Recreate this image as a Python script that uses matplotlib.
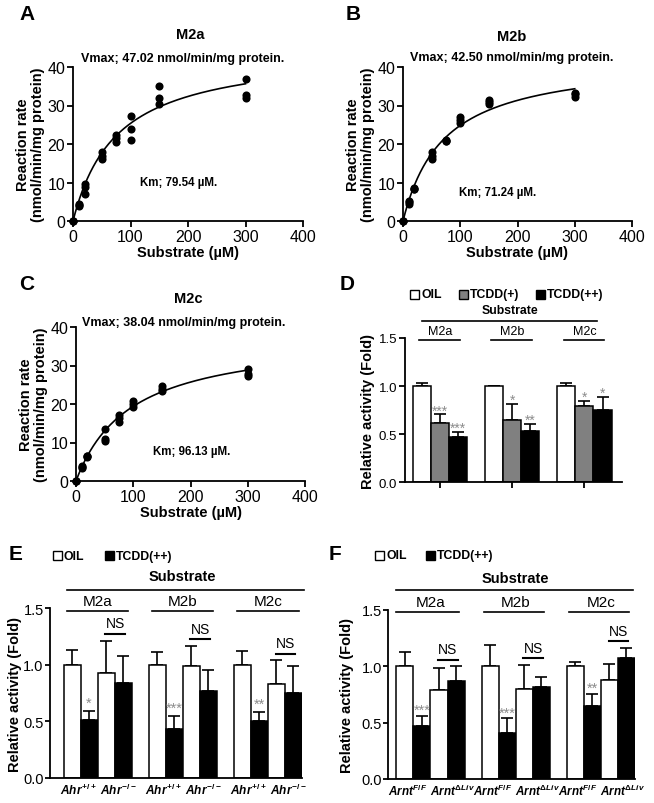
import numpy as np
import matplotlib
matplotlib.use('Agg')
import matplotlib.pyplot as plt
from matplotlib.patches import Rectangle
from matplotlib.lines import Line2D
from matplotlib.transforms import blended_transform_factory

plt.rcParams['font.family'] = ['Liberation Sans', 'DejaVu Sans']
plt.rcParams['mathtext.fontset'] = 'custom'
plt.rcParams['mathtext.it'] = 'Liberation Sans:italic:bold'
plt.rcParams['mathtext.rm'] = 'Liberation Sans:bold'
plt.rcParams['mathtext.bf'] = 'Liberation Sans:bold'

# ---------------- data ----------------
substrate = [0, 10, 20, 50, 75, 100, 150, 300]
rate_m2a = [[0, 0, 0], [4.0, 4.2, 4.5], [7.0, 8.8, 9.5], [16.0, 17.0, 18.0],
            [20.5, 21.5, 22.3], [21.0, 24.0, 27.3], [30.3, 32.0, 35.0], [32.0, 32.8, 37.0]]
rate_m2b = [[0, 0, 0], [4.5, 5.0, 5.3], [8.3, 8.4, 8.5], [16.0, 17.0, 17.8],
            [20.7, 20.8, 21.0], [25.5, 26.3, 27.0], [30.5, 31.0, 31.5], [32.3, 33.0, 33.3]]
rate_m2c = [[0, 0, 0], [3.3, 3.7, 4.0], [6.2, 6.5, 6.6], [10.3, 11.0, 13.5],
            [15.3, 16.3, 17.2], [19.3, 20.0, 20.8], [23.3, 24.0, 24.7], [27.3, 27.8, 29.0]]
vmax_text = [47.02, 42.50, 38.04]
km_text = [79.54, 71.24, 96.13]
# fitted Michaelis-Menten curve parameters (as drawn)
fit_vmax = [44.7, 42.50, 38.04]
fit_km = [76.3, 71.24, 96.13]
enzymes = ['M2a', 'M2b', 'M2c']

# Panel D
d_oil = [1.0, 1.0, 1.0]
d_oil_err = [0.035, 0.005, 0.03]
d_tcdd1 = [0.615, 0.645, 0.795]
d_tcdd1_err = [0.09, 0.17, 0.05]
d_tcdd2 = [0.475, 0.53, 0.755]
d_tcdd2_err = [0.05, 0.08, 0.13]
d_stars1 = ['***', '*', '*']
d_stars2 = ['***', '**', '*']

# Panel E
e_oil_wt = [1.0, 1.0, 1.0]
e_oil_wt_err = [0.13, 0.11, 0.12]
e_tcdd_wt = [0.51, 0.435, 0.507]
e_tcdd_wt_err = [0.085, 0.115, 0.075]
e_oil_ko = [0.925, 0.99, 0.83]
e_oil_ko_err = [0.29, 0.175, 0.21]
e_tcdd_ko = [0.84, 0.767, 0.752]
e_tcdd_ko_err = [0.235, 0.19, 0.24]
e_stars = ['*', '***', '**']
e_geno = [r'$Ahr^{+/+}$', r'$Ahr^{-/-}$']

# Panel F
f_oil_wt = [1.0, 1.0, 1.0]
f_oil_wt_err = [0.128, 0.187, 0.04]
f_tcdd_wt = [0.472, 0.404, 0.644]
f_tcdd_wt_err = [0.09, 0.136, 0.11]
f_oil_ko = [0.79, 0.797, 0.877]
f_oil_ko_err = [0.19, 0.213, 0.142]
f_tcdd_ko = [0.871, 0.818, 1.069]
f_tcdd_ko_err = [0.127, 0.088, 0.093]
f_stars = ['***', '***', '**']
f_geno = [r'$Arnt^{F/F}$', r'$Arnt^{\Delta Liv}$']

# ---------------- figure ----------------
W, H = 654, 804
fig = plt.figure(figsize=(W / 100, H / 100), dpi=100)

LW = 1.3
STAR_C = '#8c8c8c'


def add_ax(x0, x1, y0, y1):
    return fig.add_axes([x0 / W, 1 - y1 / H, (x1 - x0) / W, (y1 - y0) / H])


def ftext(x, y, s, **kw):
    kw.setdefault('ha', 'center')
    kw.setdefault('va', 'center')
    fig.text(x / W, 1 - y / H, s, **kw)


def style(ax, tick_fs, length=4, pad=1.5):
    for s in ['top', 'right']:
        ax.spines[s].set_visible(False)
    for s in ['left', 'bottom']:
        ax.spines[s].set_linewidth(LW)
    ax.tick_params(direction='out', length=length, width=LW, labelsize=tick_fs, pad=pad)


def kinetics(ax, rates, vm, km):
    xs, ys = [], []
    for s, reps in zip(substrate, rates):
        for r in reps:
            xs.append(s)
            ys.append(r)
    ax.scatter(xs, ys, s=34, color='black', zorder=3, clip_on=False, linewidths=0)
    sx = np.linspace(0, max(substrate), 300)
    ax.plot(sx, vm * sx / (km + sx), color='black', lw=1.2, clip_on=False)
    ax.set_xlim(0, 400)
    ax.set_ylim(0, 40)
    ax.set_xticks([0, 100, 200, 300, 400])
    ax.set_yticks([0, 10, 20, 30, 40])
    style(ax, 11.5)
    ax.set_xlabel('Substrate (µM)', fontsize=10.5, fontweight='bold', labelpad=1)
    ax.set_ylabel('Reaction rate\n(nmol/min/mg protein)', fontsize=10.5,
                  fontweight='bold', labelpad=2, linespacing=1.05)


# Panel A
axA = add_ax(73, 303, 68, 222)
kinetics(axA, rate_m2a, fit_vmax[0], fit_km[0])
ftext(27, 14, 'A', fontsize=15, fontweight='bold')
ftext(190, 35, enzymes[0], fontsize=10.5, fontweight='bold')
ftext(183, 59, f'Vmax; {vmax_text[0]:.2f} nmol/min/mg protein.', fontsize=9, fontweight='bold')
ftext(179, 183, f'Km; {km_text[0]:.2f} µM.', fontsize=8.3, fontweight='bold')

# Panel B
axB = add_ax(403, 632, 68, 222)
kinetics(axB, rate_m2b, fit_vmax[1], fit_km[1])
ftext(353, 14, 'B', fontsize=15, fontweight='bold')
ftext(512, 37, enzymes[1], fontsize=10.5, fontweight='bold')
ftext(512, 58, f'Vmax; {vmax_text[1]:.2f} nmol/min/mg protein.', fontsize=9, fontweight='bold')
ftext(498, 193, f'Km; {km_text[1]:.2f} µM.', fontsize=8.3, fontweight='bold')

# Panel C
axC = add_ax(76, 305, 328, 482)
kinetics(axC, rate_m2c, fit_vmax[2], fit_km[2])
ftext(27, 285, 'C', fontsize=15, fontweight='bold')
ftext(188, 299, enzymes[2], fontsize=10.5, fontweight='bold')
ftext(184, 323, f'Vmax; {vmax_text[2]:.2f} nmol/min/mg protein.', fontsize=9, fontweight='bold')
ftext(192, 452, f'Km; {km_text[2]:.2f} µM.', fontsize=8.3, fontweight='bold')


def legend_item(x, y, color, label, fs):
    sz = 9
    fig.add_artist(Rectangle((x / W, 1 - (y + sz / 2) / H), sz / W, sz / H,
                             transform=fig.transFigure, facecolor=color,
                             edgecolor='black', lw=1.0))
    ftext(x + sz + 2, y, label, ha='left', fontsize=fs, fontweight='bold')


def bracket(ax, x0, x1, ypx, lw=1.2):
    tr = blended_transform_factory(ax.transData, fig.transFigure)
    fig.add_artist(Line2D([x0, x1], [1 - ypx / H] * 2, transform=tr, color='black', lw=lw))


def btext(ax, x, ypx, s, **kw):
    tr = blended_transform_factory(ax.transData, fig.transFigure)
    kw.setdefault('ha', 'center')
    kw.setdefault('va', 'center')
    ax.text(x, 1 - ypx / H, s, transform=tr, **kw)


def bars(ax, xpos, vals, errs, color, w):
    ax.bar(xpos, vals, width=w, color=color, edgecolor='black', linewidth=1.1, zorder=2)
    ax.errorbar(xpos, vals, yerr=[np.zeros(len(vals)), errs], fmt='none', ecolor='black',
                elinewidth=1.2, capsize=4.5, capthick=1.2, zorder=1)


# Panel D
axD = add_ax(405, 622, 339, 483.3)
gx = np.arange(3)
wd = 0.25
bars(axD, gx - wd, d_oil, d_oil_err, 'white', wd)
bars(axD, gx, d_tcdd1, d_tcdd1_err, '#808080', wd)
bars(axD, gx + wd, d_tcdd2, d_tcdd2_err, 'black', wd)
for i in range(3):
    axD.text(gx[i], d_tcdd1[i] + d_tcdd1_err[i] + 0.0, d_stars1[i], ha='center',
             va='baseline', fontsize=10, color=STAR_C)
    axD.text(gx[i] + wd, d_tcdd2[i] + d_tcdd2_err[i] + 0.0, d_stars2[i], ha='center',
             va='baseline', fontsize=10, color=STAR_C)
axD.set_xlim(-0.485, 2.52)
axD.set_ylim(0, 1.5)
axD.set_yticks([0, 0.5, 1.0, 1.5])
axD.set_yticklabels(['0.0', '0.5', '1.0', '1.5'])
axD.set_xticks(gx)
axD.set_xticklabels([])
style(axD, 9.5)
axD.set_ylabel('Relative activity (Fold)', fontsize=10.5, fontweight='bold', labelpad=3)
ftext(347, 285, 'D', fontsize=15, fontweight='bold')
legend_item(410, 295, 'white', 'OIL', 8.8)
legend_item(459, 295, '#808080', 'TCDD(+)', 8.8)
legend_item(536, 295, 'black', 'TCDD(++)', 8.8)
btext(axD, 0.97, 311, 'Substrate', fontsize=8.8, fontweight='bold')
bracket(axD, -0.25, 2.17, 322)
for i in range(3):
    btext(axD, gx[i], 332, enzymes[i], fontsize=9)
    bracket(axD, gx[i] - 0.29, gx[i] + 0.27, 341)


def genotype_panel(ax, oil_wt, oil_wt_e, tc_wt, tc_wt_e, oil_ko, oil_ko_e, tc_ko, tc_ko_e,
                   stars, geno, star_off, lab_off, lab_fs, ylab_x):
    w = 0.2
    bars(ax, gx - 1.5 * w, oil_wt, oil_wt_e, 'white', w)
    bars(ax, gx - 0.5 * w, tc_wt, tc_wt_e, 'black', w)
    bars(ax, gx + 0.5 * w, oil_ko, oil_ko_e, 'white', w)
    bars(ax, gx + 1.5 * w, tc_ko, tc_ko_e, 'black', w)
    for i in range(3):
        ax.text(gx[i] - 0.5 * w, tc_wt[i] + tc_wt_e[i] + star_off, stars[i], ha='center',
                va='baseline', fontsize=10.5, color=STAR_C)
        top = max(oil_ko[i] + oil_ko_e[i], tc_ko[i] + tc_ko_e[i]) + 0.06
        ax.plot([gx[i] + 0.09, gx[i] + 0.32], [top, top], color='black', lw=1.5, clip_on=False)
        ax.text(gx[i] + 0.205, top + 0.03, 'NS', ha='center', va='bottom', fontsize=10)
        ax.text(gx[i] + lab_off[0], -0.1, geno[0], ha='center', va='center', fontsize=lab_fs)
        ax.text(gx[i] + lab_off[1], -0.1, geno[1], ha='center', va='center', fontsize=lab_fs)
    ax.set_ylim(0, 1.5)
    ax.set_yticks([0, 0.5, 1.0, 1.5])
    ax.set_yticklabels(['0.0', '0.5', '1.0', '1.5'])
    ax.set_xticks([])
    style(ax, 10.5, length=3.5, pad=1)
    ax.set_ylabel('Relative activity (Fold)', fontsize=10.5, fontweight='bold')
    ax.yaxis.set_label_coords(ylab_x, 0.5)


# Panel E
axE = add_ax(50, 302, 609.3, 779)
genotype_panel(axE, e_oil_wt, e_oil_wt_err, e_tcdd_wt, e_tcdd_wt_err, e_oil_ko, e_oil_ko_err,
               e_tcdd_ko, e_tcdd_ko_err, e_stars, e_geno, 0.035, (-0.23, 0.24), 8.6, -0.113)
axE.set_xlim(-0.559, 2.40)
ftext(16, 555, 'E', fontsize=15, fontweight='bold')
legend_item(53, 556.7, 'white', 'OIL', 8.8)
legend_item(105, 556.7, 'black', 'TCDD(++)', 8.8)
btext(axE, 1.0, 576.7, 'Substrate', fontsize=10.5, fontweight='bold')
bracket(axE, -0.36, 2.42, 590.7)
for i in range(3):
    btext(axE, gx[i], 601.7, enzymes[i], fontsize=11)
    bracket(axE, gx[i] - 0.36, gx[i] + 0.36, 611.7)

# Panel F
axF = add_ax(388.3, 635, 610.7, 780)
genotype_panel(axF, f_oil_wt, f_oil_wt_err, f_tcdd_wt, f_tcdd_wt_err, f_oil_ko, f_oil_ko_err,
               f_tcdd_ko, f_tcdd_ko_err, f_stars, f_geno, 0.015, (-0.27, 0.255), 8.4, -0.14)
axF.set_xlim(-0.495, 2.40)
ftext(335, 555, 'F', fontsize=15, fontweight='bold')
legend_item(375, 556, 'white', 'OIL', 8.8)
legend_item(426, 556, 'black', 'TCDD(++)', 8.8)
btext(axF, 1.0, 579.3, 'Substrate', fontsize=10.5, fontweight='bold')
bracket(axF, -0.405, 2.38, 591)
for i in range(3):
    btext(axF, gx[i], 602.7, enzymes[i], fontsize=11)
    bracket(axF, gx[i] - 0.4 + 0.03 * (i > 0), gx[i] + 0.33, 612.7)

fig.savefig('out.png', dpi=100)
